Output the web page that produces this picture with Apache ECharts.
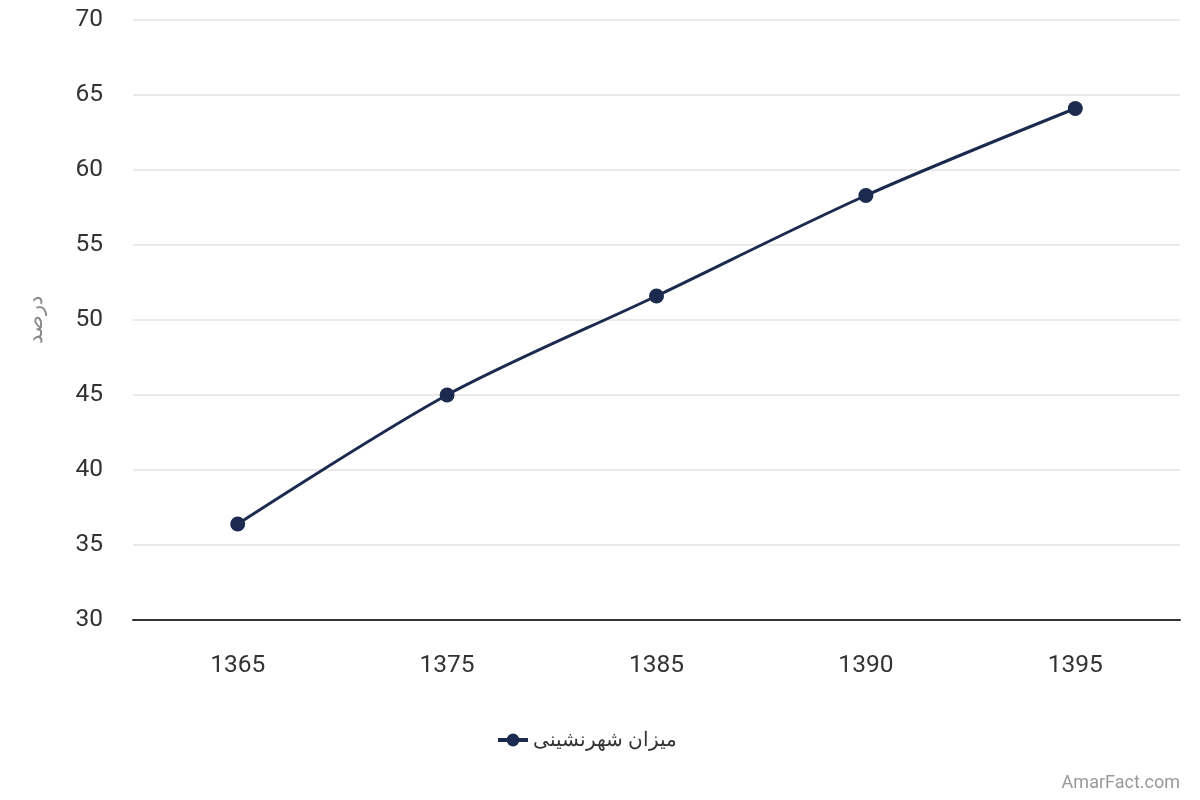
<!DOCTYPE html>
<html><head><meta charset="utf-8">
<script src="https://cdn.jsdelivr.net/npm/echarts@6/dist/echarts.min.js"></script>
<style>html,body{margin:0;padding:0;background:#fff}#c{width:1200px;height:800px}</style>
</head><body><div id="c"></div>
<script>
const categories = ['1365', '1375', '1385', '1390', '1395'];
const urbanRate = [36.4, 45.0, 51.6, 58.3, 64.1];
const seriesName = 'میزان شهرنشینی';
const yAxisName = 'درصد';

const chart = echarts.init(document.getElementById('c'));
chart.setOption({
  animation: false,
  grid: { left: 133, right: 20, top: 20, bottom: 180 },
  xAxis: {
    type: 'category', data: categories, boundaryGap: true,
    axisLine: { lineStyle: { color: '#333', width: 2 } },
    axisTick: { show: false },
    axisLabel: { color: '#333', fontSize: 24.5, margin: 33, fontFamily: 'Roboto' }
  },
  yAxis: {
    type: 'value', min: 30, max: 70, interval: 5,
    name: yAxisName, nameLocation: 'middle', nameGap: 86, nameRotate: 90,
    nameTextStyle: { color: '#888', fontSize: 21, fontFamily: 'Noto Sans' },
    axisLine: { show: false }, axisTick: { show: false },
    axisLabel: { color: '#333', fontSize: 24.5, margin: 30, fontFamily: 'Roboto' },
    splitLine: { lineStyle: { color: '#e3e3e3', width: 1.5 } }
  },
  legend: {
    bottom: 45, left: 491, itemWidth: 30, itemHeight: 16, itemGap: 10,
    textStyle: { color: '#333', fontSize: 20, fontFamily: 'Noto Sans' },
    itemStyle: { color: '#1b2a4e' },
    lineStyle: { width: 4 },
    data: [seriesName]
  },
  graphic: [{
    type: 'text', right: 20, bottom: 8,
    style: { text: 'AmarFact.com', fill: '#999', fontSize: 18, fontFamily: 'Roboto' }
  }],
  series: [{
    name: seriesName, type: 'line', data: urbanRate, smooth: 0.3,
    symbol: 'circle', symbolSize: 15,
    lineStyle: { color: '#1b2a4e', width: 3 },
    itemStyle: { color: '#1b2a4e' }
  }]
});
</script></body></html>
